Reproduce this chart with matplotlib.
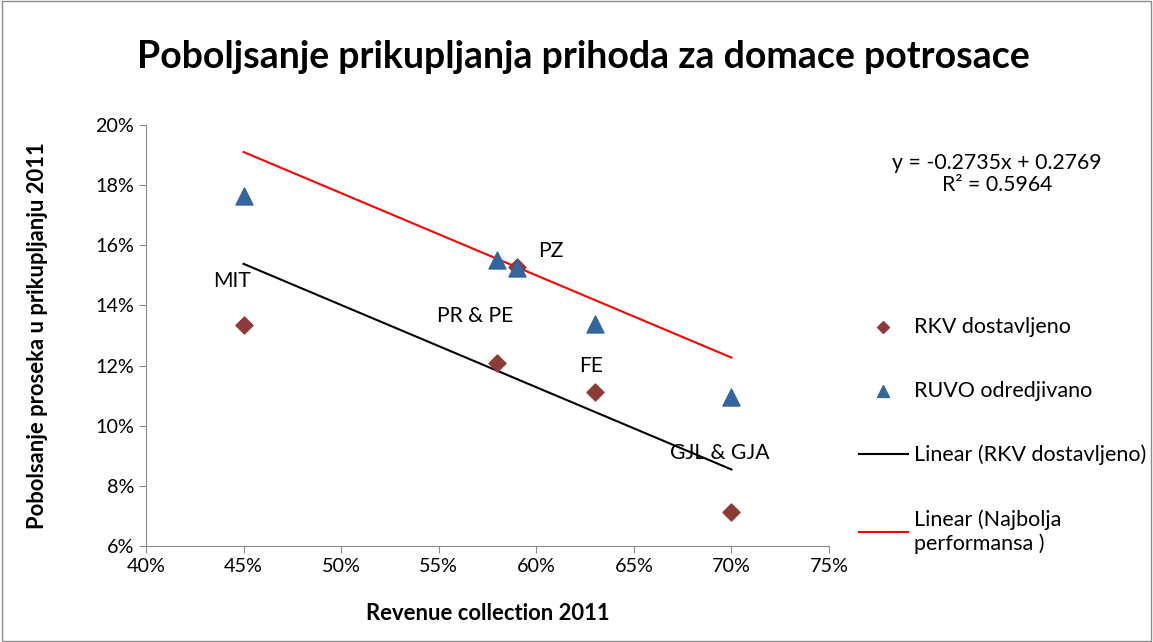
import numpy as np
import matplotlib
matplotlib.use("Agg")
import matplotlib.pyplot as plt
from matplotlib.patches import Rectangle

plt.rcParams['font.family'] = ['Lato', 'DejaVu Sans']

# data
revenue = [0.45, 0.58, 0.59, 0.63, 0.70]
rkv_delivered = [0.1335, 0.1208, 0.1528, 0.1112, 0.0714]
ruvo_assessed = [0.1764, 0.1551, 0.1524, 0.1338, 0.1095]
point_labels = ["MIT", "PR & PE", "PZ", "FE", "GJL & GJA"]
label_offsets = [(-0.006, 0.0146), (-0.0114, 0.0157), (0.0175, 0.0053), (-0.002, 0.0088), (-0.006, 0.0195)]

# trend lines (slope, intercept)
fit_rkv = (-0.2735, 0.2769)
fit_best = (-0.2735, 0.3141)
fit_text = "y = -0.2735x + 0.2769\nR² = 0.5964"

fig = plt.figure(figsize=(11.53, 6.42), dpi=100)
ax = fig.add_axes([146 / 1153, 1 - 546 / 642, (829 - 146) / 1153, (546 - 125) / 642])

# chart border
fig.patches.append(Rectangle((0.002, 0.002), 0.996, 0.996, transform=fig.transFigure,
                             fill=False, edgecolor="#8c8c8c", linewidth=1))

ax.scatter(revenue, rkv_delivered, marker="D", s=75, color="#8e3a36", zorder=3,
           label="RKV dostavljeno")
ax.scatter(revenue, ruvo_assessed, marker="^", s=150, color="#34659c", zorder=3,
           label="RUVO odredjivano")

xs = np.array([min(revenue), max(revenue)])
ax.plot(xs, fit_rkv[0] * xs + fit_rkv[1], color="black", lw=1.5,
        label="Linear (RKV dostavljeno)")
ax.plot(xs, fit_best[0] * xs + fit_best[1], color="red", lw=1.5,
        label="Linear (Najbolja\nperformansa )")

for x, y, t, (dx, dy) in zip(revenue, rkv_delivered, point_labels, label_offsets):
    ax.text(x + dx, y + dy, t, fontsize=15.2, ha="center", va="center")

fig.text(997 / 1153, 1 - 174 / 642, fit_text, fontsize=15.3,
         ha="center", va="center", linespacing=1.1)

ax.set_xlim(0.40, 0.75)
ax.set_ylim(0.06, 0.20)
ax.set_xticks(np.arange(0.40, 0.751, 0.05))
ax.set_yticks(np.arange(0.06, 0.201, 0.02))
ax.set_xticklabels([f"{v:.0f}%" for v in np.arange(40, 76, 5)])
ax.set_yticklabels([f"{v:.0f}%" for v in np.arange(6, 21, 2)])
ax.tick_params(labelsize=14.2, length=5, color="#8c8c8c")
for side in ["top", "right"]:
    ax.spines[side].set_visible(False)
for side in ["left", "bottom"]:
    ax.spines[side].set_color("#8c8c8c")

ax.set_xlabel("Revenue collection 2011", fontsize=15.8, fontweight="bold")
ax.set_ylabel("Pobolsanje proseka u prikupljanju 2011", fontsize=15.8, fontweight="bold")
ax.xaxis.set_label_coords(0.5, (546 - 614) / 421, transform=ax.transAxes)
ax.yaxis.set_label_coords((37 - 146) / 683, 0.5, transform=ax.transAxes)
ax.xaxis.label.set_va("center")
ax.yaxis.label.set_va("center")

fig.text(583 / 1153, 1 - 57 / 642, "Poboljsanje prikupljanja prihoda za domace potrosace",
         fontsize=27, fontweight="bold", ha="center", va="center")

fig.legend(loc="upper left", bbox_to_anchor=(850 / 1153, 1 - 308 / 642), frameon=False,
           fontsize=15.5, labelspacing=2.05, handlelength=2.3, handletextpad=0.25,
           scatterpoints=1, borderaxespad=0, markerscale=0.7)

fig.savefig("out.png", dpi=100)
